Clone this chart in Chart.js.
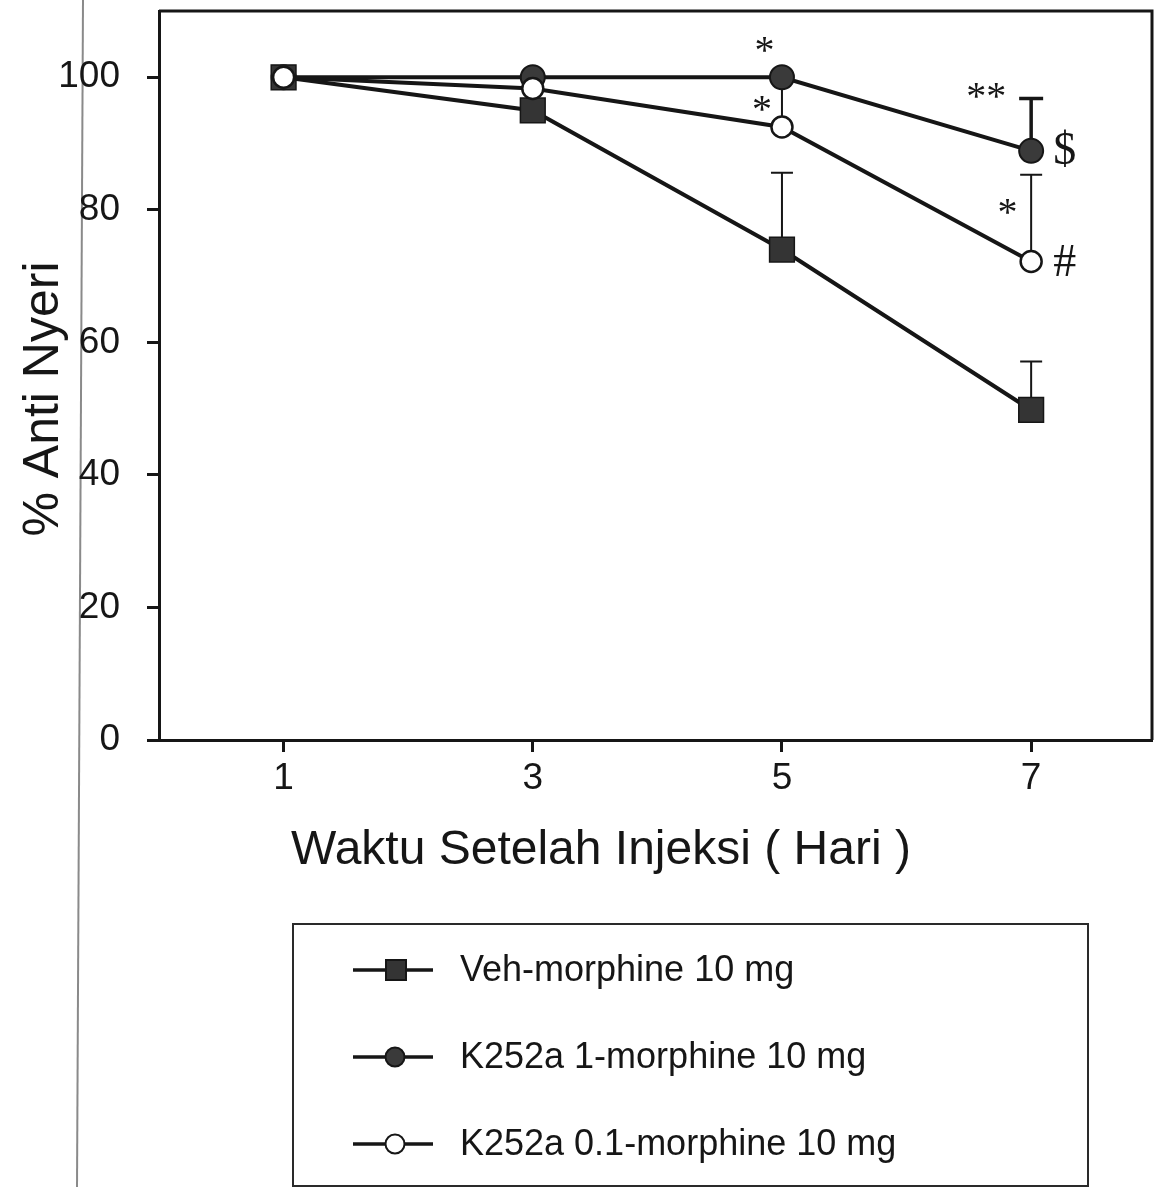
<!DOCTYPE html>
<html>
<head>
<meta charset="utf-8">
<script src="https://cdn.jsdelivr.net/npm/chart.js@4/dist/chart.umd.min.js"></script>
<style>
  html, body { margin: 0; padding: 0; background: #fff; }
  #wrap { width: 1154px; height: 1187px; position: relative; }
</style>
</head>
<body>
<div id="wrap"><canvas id="chart"></canvas></div>
<script>
const days = [1, 3, 5, 7];
const xTicks = [1, 3, 5, 7];
const yTicks = [0, 20, 40, 60, 80, 100];

const vehMean = [100, 95.0, 74.0, 49.8];
const vehErr = [0, 0, 11.6, 7.3];
const k1Mean = [100, 100, 100, 88.9];
const k1Err = [0, 0, 0, 7.9];
const k01Mean = [100, 98.3, 92.5, 72.2];
const k01Err = [0, 0, 7.5, 13.1];

const seriesNames = ['Veh-morphine 10 mg', 'K252a 1-morphine 10 mg', 'K252a 0.1-morphine 10 mg'];

// significance marks: [text, day, value]
const marks = [
    ['*', 4.86, 105.0],
    ['*', 4.84, 96.0],
    ['**', 6.64, 98.0],
    ['$', 7.27, 89.3],
    ['*', 6.81, 80.5],
    ['#', 7.27, 72.4]
];

const SANS = "'Liberation Sans', Arial, sans-serif";
const SERIF = "'Liberation Serif', 'Times New Roman', serif";
const INK = '#161616';

function pts(mean) {
    return days.map((d, i) => ({ x: d, y: mean[i] }));
}

const datasets = [
    {
        label: seriesNames[0], data: pts(vehMean), errors: vehErr, errWidth: 2, capWidth: 22,
        pointStyle: 'rect', pointRadius: 17.5, backgroundColor: '#343434', borderColor: INK,
        pointBorderWidth: 1.5, borderWidth: 4, order: 1
    },
    {
        label: seriesNames[1], data: pts(k1Mean), errors: k1Err, errWidth: 3.5, capWidth: 24,
        pointStyle: 'circle', pointRadius: 12, backgroundColor: '#3a3a3a', borderColor: INK,
        pointBorderWidth: 2, borderWidth: 4, order: 2
    },
    {
        label: seriesNames[2], data: pts(k01Mean), errors: k01Err, errWidth: 2, capWidth: 22,
        pointStyle: 'circle', pointRadius: 10.5, backgroundColor: '#ffffff', borderColor: INK,
        pointBorderWidth: 2.5, borderWidth: 4, order: 0
    }
];

function noPad(s) {
    s.paddingTop = 0;
    s.paddingBottom = 0;
    s.paddingLeft = 0;
    s.paddingRight = 0;
}

const figurePlugin = {
    id: 'figure',
    beforeDraw(chart) {
        const ctx = chart.ctx;
        ctx.save();
        ctx.fillStyle = '#fff';
        ctx.fillRect(0, 0, chart.width, chart.height);
        // page edge from the scan
        ctx.strokeStyle = '#8a8a8a';
        ctx.lineWidth = 2;
        ctx.beginPath();
        ctx.moveTo(83, 0);
        ctx.lineTo(77, chart.height);
        ctx.stroke();
        ctx.restore();
    },
    beforeDatasetsDraw(chart) {
        const ctx = chart.ctx;
        const xs = chart.scales.x, ys = chart.scales.y;
        ctx.save();
        ctx.strokeStyle = INK;
        chart.data.datasets.forEach(ds => {
            ds.errors.forEach((e, i) => {
                if (!e) return;
                const px = xs.getPixelForValue(ds.data[i].x);
                const y0 = ys.getPixelForValue(ds.data[i].y);
                const y1 = ys.getPixelForValue(ds.data[i].y + e);
                ctx.lineWidth = ds.errWidth;
                ctx.beginPath();
                ctx.moveTo(px, y0);
                ctx.lineTo(px, y1);
                ctx.moveTo(px - ds.capWidth / 2, y1);
                ctx.lineTo(px + ds.capWidth / 2, y1);
                ctx.stroke();
            });
        });
        ctx.restore();
    },
    afterDraw(chart) {
        const ctx = chart.ctx;
        const a = chart.chartArea;
        const xs = chart.scales.x, ys = chart.scales.y;
        ctx.save();
        // frame top and right
        ctx.strokeStyle = INK;
        ctx.lineWidth = 3;
        ctx.beginPath();
        ctx.moveTo(a.left, a.top);
        ctx.lineTo(a.right, a.top);
        ctx.lineTo(a.right, a.bottom);
        ctx.stroke();

        // marks
        ctx.fillStyle = INK;
        ctx.textAlign = 'center';
        ctx.textBaseline = 'alphabetic';
        marks.forEach(([t, d, v]) => {
            ctx.font = (t.includes('*') ? '40px ' : '46px ') + SERIF;
            const m = ctx.measureText(t);
            const cy = ys.getPixelForValue(v);
            const base = cy + (m.actualBoundingBoxAscent - m.actualBoundingBoxDescent) / 2;
            ctx.fillText(t, xs.getPixelForValue(d), base);
        });

        // axis titles
        ctx.font = '48px ' + SANS;
        ctx.textAlign = 'center';
        ctx.fillText('Waktu Setelah Injeksi ( Hari )', 601, 864);
        ctx.save();
        ctx.translate(58, 399);
        ctx.rotate(-Math.PI / 2);
        ctx.font = '50px ' + SANS;
        ctx.fillText('% Anti Nyeri', 0, 0);
        ctx.restore();

        // legend
        const box = { left: 293, top: 924, right: 1088, bottom: 1186 };
        ctx.strokeStyle = '#2a2a2a';
        ctx.lineWidth = 2;
        ctx.strokeRect(box.left, box.top, box.right - box.left, box.bottom - box.top);
        const rowY = [970, 1057, 1144];
        chart.data.datasets.forEach((ds, i) => {
            const y = rowY[i];
            ctx.strokeStyle = INK;
            ctx.lineWidth = 3.5;
            ctx.beginPath();
            ctx.moveTo(353, y);
            ctx.lineTo(433, y);
            ctx.stroke();
            ctx.fillStyle = ds.backgroundColor;
            ctx.lineWidth = 2;
            ctx.beginPath();
            if (ds.pointStyle === 'rect') {
                ctx.rect(386, y - 10, 20, 20);
            } else {
                ctx.arc(395, y, 9.5, 0, Math.PI * 2);
            }
            ctx.fill();
            ctx.stroke();
            ctx.fillStyle = INK;
            ctx.font = '36px ' + SANS;
            ctx.textAlign = 'left';
            ctx.textBaseline = 'middle';
            ctx.fillText(ds.label, 460, y + 1);
        });
        ctx.restore();
    }
};

new Chart(document.getElementById('chart'), {
    type: 'line',
    data: { datasets: datasets },
    options: {
        responsive: true,
        maintainAspectRatio: false,
        animation: false,
        layout: { autoPadding: false, padding: { top: 11, right: 2, left: 0, bottom: 0 } },
        plugins: { legend: { display: false }, tooltip: { enabled: false } },
        elements: { line: { tension: 0 } },
        scales: {
            x: {
                type: 'linear', min: 0, max: 7.97,
                afterBuildTicks: s => { s.ticks = xTicks.map(v => ({ value: v })); },
                afterFit: s => { s.height = 447; noPad(s); },
                grid: { drawOnChartArea: false, drawTicks: true, tickLength: 12, tickWidth: 3, tickColor: INK },
                border: { display: true, color: INK, width: 3 },
                ticks: { color: INK, font: { family: SANS, size: 37 }, padding: 5, maxRotation: 0 }
            },
            y: {
                min: 0, max: 110,
                afterBuildTicks: s => { s.ticks = yTicks.map(v => ({ value: v })); },
                afterFit: s => { s.width = 159; noPad(s); },
                grid: { drawOnChartArea: false, drawTicks: true, tickLength: 12, tickWidth: 3, tickColor: INK },
                border: { display: true, color: INK, width: 3 },
                ticks: { color: INK, font: { family: SANS, size: 37 }, padding: 27 }
            }
        }
    },
    plugins: [figurePlugin]
});
</script>
</body>
</html>
